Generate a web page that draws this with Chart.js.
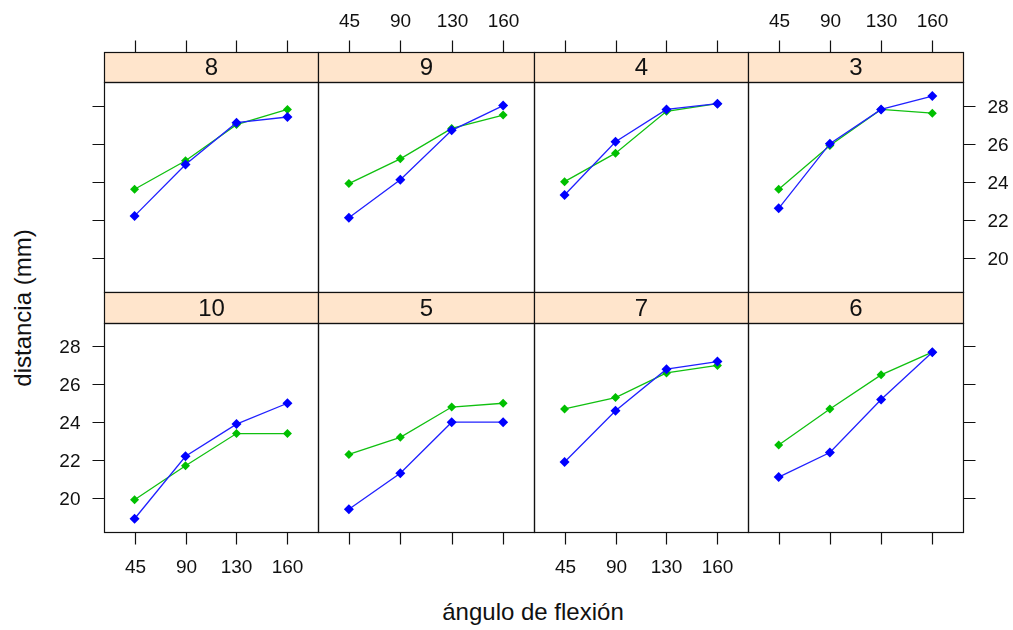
<!DOCTYPE html>
<html>
<head>
<meta charset="utf-8">
<script src="https://cdn.jsdelivr.net/npm/chart.js@4.4.0/dist/chart.umd.min.js"></script>
<style>
body { margin: 0; background: #fff; }
#fig { position: relative; width: 1013px; height: 630px; font-family: "Liberation Sans", Arial, sans-serif; }
#fig canvas { position: absolute; left: 0; top: 0; }
.titulo { position: absolute; font-size: 24px; color: #111; white-space: nowrap; transform: translate(-50%, -50%); }
#xlab { left: 533px; top: 612px; }
#ylab { left: 23px; top: 308px; transform: translate(-50%, -50%) rotate(-90deg); }
</style>
</head>
<body>
<div id="fig">
  <div class="titulo" id="xlab">ángulo de flexión</div>
  <div class="titulo" id="ylab">distancia (mm)</div>
</div>
<script>
const angulos = ['45', '90', '130', '160'];
const paneles = ['8', '9', '4', '3', '10', '5', '7', '6'];
const yTicks = [20, 22, 24, 26, 28];

// distancia (mm) en cada angulo, dos series por panel
const azul8 = [22.2, 24.9, 27.1, 27.4];
const verde8 = [23.6, 25.1, 27.0, 27.8];
const azul9 = [22.1, 24.1, 26.7, 28.0];
const verde9 = [23.9, 25.2, 26.8, 27.5];
const azul4 = [23.3, 26.1, 27.8, 28.1];
const verde4 = [24.0, 25.5, 27.7, 28.1];
const azul3 = [22.6, 26.0, 27.8, 28.5];
const verde3 = [23.6, 25.9, 27.8, 27.6];
const azul10 = [18.9, 22.2, 23.9, 25.0];
const verde10 = [19.9, 21.7, 23.4, 23.4];
const azul5 = [19.4, 21.3, 24.0, 24.0];
const verde5 = [22.3, 23.2, 24.8, 25.0];
const azul7 = [21.9, 24.6, 26.8, 27.2];
const verde7 = [24.7, 25.3, 26.6, 27.0];
const azul6 = [21.1, 22.4, 25.2, 27.7];
const verde6 = [22.8, 24.7, 26.5, 27.7];

const series = {
    '8': [azul8, verde8], '9': [azul9, verde9], '4': [azul4, verde4], '3': [azul3, verde3],
    '10': [azul10, verde10], '5': [azul5, verde5], '7': [azul7, verde7], '6': [azul6, verde6],
};

// layout of the lattice
const cols = [104, 318, 534, 748, 963];
const stripTop = [52, 292];
const panelTop = [82, 323];
const panelBottom = [292, 532];
const TICK = 12;
const FONT = '"Liberation Sans", Arial, sans-serif';

const marco = {
    id: 'marco',
    afterDatasetsDraw(chart, args, opts) {
        const { ctx, chartArea: a, scales } = chart;
        const fila = opts.fila, col = opts.col;
        const L = Math.round(a.left) + 0.5, R = Math.round(a.right) + 0.5;
        const T = Math.round(a.top) + 0.5, B = Math.round(a.bottom) + 0.5;
        const S = stripTop[fila] + 0.5;
        ctx.save();
        ctx.strokeStyle = '#111';
        ctx.lineWidth = 1.2;

        // strip
        ctx.fillStyle = '#FFE5CC';
        ctx.fillRect(L, S, R - L, T - S);
        ctx.strokeRect(L, S, R - L, T - S);
        ctx.fillStyle = '#111';
        ctx.font = '24px ' + FONT;
        ctx.textAlign = 'center';
        ctx.textBaseline = 'middle';
        ctx.fillText(opts.nombre, (L + R) / 2, (S + T) / 2 + 1);

        // panel border
        ctx.strokeRect(L, T, R - L, B - T);

        // x axis ticks
        ctx.font = '19px ' + FONT;
        ctx.beginPath();
        angulos.forEach((lab, k) => {
            const px = Math.round(scales.x.getPixelForValue(k + 1)) + 0.5;
            if (fila === 0) {
                ctx.moveTo(px, S); ctx.lineTo(px, S - TICK);
                if (col % 2 === 1) ctx.fillText(lab, px, 22);
            } else {
                ctx.moveTo(px, B); ctx.lineTo(px, B + TICK);
                if (col % 2 === 0) ctx.fillText(lab, px, 568);
            }
        });
        // y axis ticks
        yTicks.forEach(v => {
            const py = Math.round(scales.y.getPixelForValue(v)) + 0.5;
            if (col === 0) {
                ctx.moveTo(L, py); ctx.lineTo(L - TICK, py);
                if (fila === 1) { ctx.textAlign = 'right'; ctx.fillText(String(v), L - 24, py + 1); }
            }
            if (col === 3) {
                ctx.moveTo(R, py); ctx.lineTo(R + TICK, py);
                if (fila === 0) { ctx.textAlign = 'left'; ctx.fillText(String(v), R + 24, py + 1); }
            }
        });
        ctx.stroke();
        ctx.restore();
    }
};

const fig = document.getElementById('fig');

paneles.forEach((nombre, i) => {
    const fila = i < 4 ? 0 : 1;
    const col = i % 4;
    const canvas = document.createElement('canvas');
    canvas.width = 1013;
    canvas.height = 630;
    canvas.style.width = '1013px';
    canvas.style.height = '630px';
    fig.appendChild(canvas);

    const [azul, verde] = series[nombre];
    const puntos = vals => vals.map((y, k) => ({ x: k + 1, y: y }));

    new Chart(canvas, {
        type: 'line',
        data: {
            datasets: [{
                label: 'azul',
                data: puntos(azul),
                borderColor: '#2020FF',
                backgroundColor: '#0000FF',
                borderWidth: 1.3,
                pointStyle: 'rectRot',
                pointRadius: 5,
                pointBorderWidth: 0,
                tension: 0,
            }, {
                label: 'verde',
                data: puntos(verde),
                borderColor: '#10C010',
                backgroundColor: '#00C000',
                borderWidth: 1.3,
                pointStyle: 'rectRot',
                pointRadius: 4.5,
                pointBorderWidth: 0,
                tension: 0,
            }]
        },
        options: {
            responsive: false,
            animation: false,
            events: [],
            layout: {
                padding: {
                    left: cols[col],
                    right: 1013 - cols[col + 1],
                    top: panelTop[fila],
                    bottom: 630 - panelBottom[fila],
                }
            },
            scales: {
                x: { type: 'linear', min: 0.4, max: 4.6, display: false },
                y: { type: 'linear', min: 18.2, max: 29.24, display: false },
            },
            plugins: {
                legend: { display: false },
                tooltip: { enabled: false },
                marco: { fila: fila, col: col, nombre: nombre },
            }
        },
        plugins: [marco]
    });
});
</script>
</body>
</html>
